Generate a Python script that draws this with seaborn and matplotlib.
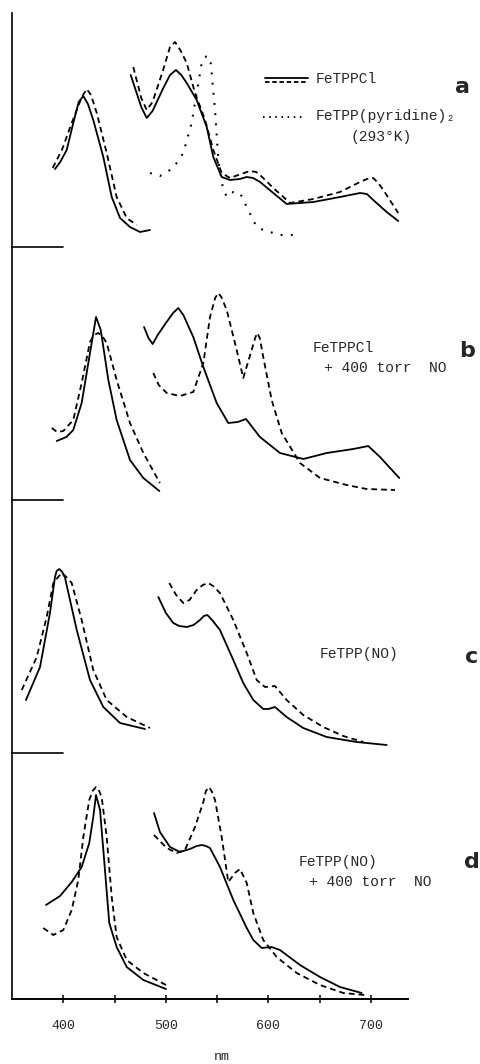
import numpy as np
import pandas as pd
import matplotlib
matplotlib.use("Agg")
import matplotlib.pyplot as plt
from matplotlib.lines import Line2D
import seaborn as sns

# ---------------- data (wavelength nm, absorbance arb. units) ----------------
# Panel a: FeTPPCl (solid / dashed) and FeTPP(pyridine)2 (dotted)
a_sol_soret_x = [391.9, 397.0, 403.3, 409.7, 415.0, 419.5, 424.0, 429.2, 439.0, 447.2, 455.3, 465.0, 474.8, 484.5]
a_sol_soret_y = [0.78, 0.85, 0.97, 1.24, 1.45, 1.51, 1.43, 1.27, 0.90, 0.50, 0.29, 0.20, 0.15, 0.17]
a_das_soret_x = [389.7, 399.0, 408.2, 418.0, 422.8, 427.0, 432.6, 442.3, 452.0, 461.8, 471.5]
a_das_soret_y = [0.79, 0.98, 1.24, 1.50, 1.58, 1.52, 1.34, 0.94, 0.50, 0.29, 0.22]
a_sol_q_x = [465.7, 476.0, 481.3, 487.0, 497.0, 504.0, 509.8, 515.0, 520.3, 530.0, 539.8, 546.2,
             554.4, 562.5, 572.0, 578.8, 585.0, 591.8, 604.7, 617.7, 643.7, 669.7, 689.2,
             696.0, 702.1, 715.2, 726.5]
a_sol_q_y = [1.72, 1.40, 1.29, 1.36, 1.58, 1.72, 1.77, 1.72, 1.64, 1.47, 1.20, 0.90,
             0.70, 0.67, 0.68, 0.70, 0.69, 0.65, 0.54, 0.43, 0.45, 0.50, 0.54,
             0.53, 0.47, 0.35, 0.26]
a_das_q_x = [468.2, 476.0, 481.3, 487.0, 497.0, 504.0, 508.9, 514.0, 520.3, 528.4, 538.2, 546.2,
             554.4, 562.5, 576.0, 582.0, 588.0, 591.8, 604.7, 621.0, 643.7, 669.7, 689.2,
             696.0, 702.1, 707.0, 711.9, 726.5]
a_das_q_y = [1.80, 1.49, 1.37, 1.45, 1.76, 2.00, 2.05, 1.97, 1.84, 1.54, 1.27, 0.97,
             0.74, 0.69, 0.74, 0.76, 0.75, 0.72, 0.59, 0.44, 0.48, 0.55, 0.65,
             0.68, 0.69, 0.64, 0.57, 0.34]
a_pyr_x = [484.5, 494.2, 507.2, 517.0, 525.1, 530.0, 534.9, 538.0, 541.3, 543.5, 547.9, 551.1,
           555.4, 559.3, 565.7, 572.3, 578.8, 588.5, 595.0, 611.2, 629.0]
a_pyr_y = [0.74, 0.71, 0.79, 0.94, 1.24, 1.54, 1.84, 1.90, 1.91, 1.86, 1.37, 0.87,
           0.60, 0.50, 0.55, 0.54, 0.40, 0.20, 0.17, 0.12, 0.12]

# Panel b: FeTPPCl (solid) + 400 torr NO (dashed)
b_sol_soret_x = [393.6, 403.0, 409.7, 417.9, 426.0, 431.9, 436.5, 443.9, 452.0, 465.0, 478.0, 493.6]
b_sol_soret_y = [0.59, 0.63, 0.70, 0.97, 1.47, 1.83, 1.70, 1.20, 0.80, 0.40, 0.22, 0.09]
b_das_soret_x = [388.7, 394.0, 400.0, 409.7, 417.9, 426.0, 430.0, 434.1, 438.0, 442.3, 452.0, 465.0, 478.0, 494.2]
b_das_soret_y = [0.72, 0.68, 0.69, 0.80, 1.17, 1.58, 1.65, 1.67, 1.64, 1.57, 1.20, 0.77, 0.47, 0.17]
b_sol_q_x = [478.7, 483.0, 487.1, 492.0, 500.0, 507.0, 512.1, 517.0, 526.7, 536.5, 549.5, 560.8,
             570.0, 578.1, 591.7, 611.2, 634.0, 656.7, 682.7, 697.3, 708.7, 727.5]
b_sol_q_y = [1.73, 1.62, 1.56, 1.65, 1.77, 1.87, 1.92, 1.85, 1.63, 1.33, 0.97, 0.77,
             0.78, 0.81, 0.63, 0.47, 0.41, 0.47, 0.51, 0.54, 0.43, 0.22]
b_das_q_x = [487.7, 493.0, 500.8, 513.7, 526.7, 536.5, 543.0, 548.0, 551.1, 554.0, 559.3, 569.0,
             575.4, 583.6, 587.0, 589.1, 591.5, 594.9, 603.1, 612.9, 630.7, 650.2, 676.2, 695.7, 723.3]
b_das_q_y = [1.27, 1.15, 1.07, 1.04, 1.08, 1.37, 1.83, 2.02, 2.07, 2.03, 1.90, 1.50,
             1.22, 1.50, 1.62, 1.67, 1.62, 1.43, 1.00, 0.67, 0.37, 0.22, 0.15, 0.11, 0.10]

# Panel c: FeTPP(NO)
c_sol_soret_x = [363.6, 377.3, 387.0, 391.9, 393.5, 396.1, 399.0, 401.7, 413.1, 426.0, 439.0, 455.3, 479.6]
c_sol_soret_y = [0.53, 0.86, 1.40, 1.76, 1.82, 1.84, 1.81, 1.75, 1.23, 0.73, 0.46, 0.30, 0.24]
c_das_soret_x = [359.5, 374.1, 383.8, 390.3, 395.0, 398.4, 402.0, 408.2, 417.9, 429.2, 442.3, 461.8, 484.5]
c_das_soret_y = [0.63, 0.96, 1.36, 1.70, 1.76, 1.80, 1.77, 1.70, 1.33, 0.83, 0.53, 0.36, 0.25]
c_sol_q_x = [492.6, 500.0, 507.2, 513.0, 520.3, 527.0, 533.2, 537.0, 540.4, 545.0, 552.7, 565.7,
             575.4, 585.2, 594.9, 600.0, 606.3, 617.7, 633.9, 656.7, 685.9, 715.2]
c_sol_q_y = [1.56, 1.40, 1.30, 1.27, 1.26, 1.28, 1.33, 1.37, 1.38, 1.33, 1.23, 0.93,
             0.70, 0.53, 0.44, 0.44, 0.46, 0.36, 0.25, 0.16, 0.11, 0.08]
c_das_q_x = [503.3, 510.0, 517.0, 523.0, 530.0, 536.0, 541.3, 546.0, 552.7, 565.7, 578.8, 588.5,
             596.6, 606.3, 617.7, 633.9, 653.4, 672.9, 692.4]
c_das_q_y = [1.70, 1.58, 1.50, 1.53, 1.63, 1.68, 1.70, 1.67, 1.60, 1.33, 1.00, 0.73,
             0.66, 0.67, 0.53, 0.38, 0.26, 0.17, 0.11]

# Panel d: FeTPP(NO) + 400 torr NO
d_sol_soret_x = [383.1, 396.8, 408.2, 417.9, 425.3, 429.2, 431.9, 435.8, 440.6, 444.8, 452.0,
                 461.8, 478.0, 500.1]
d_sol_soret_y = [0.94, 1.03, 1.17, 1.32, 1.56, 1.82, 2.04, 1.89, 1.29, 0.76, 0.52,
                 0.32, 0.19, 0.10]
d_das_soret_x = [380.5, 390.3, 400.0, 408.2, 414.6, 419.5, 425.3, 428.5, 431.9, 434.5, 437.4, 442.3, 447.2,
                 452.0, 461.8, 478.0, 500.1]
d_das_soret_y = [0.71, 0.64, 0.69, 0.89, 1.19, 1.62, 1.99, 2.08, 2.12, 2.09, 2.02, 1.62, 1.02,
                 0.62, 0.39, 0.26, 0.14]
d_sol_q_x = [488.4, 494.2, 504.0, 513.7, 523.5, 530.0, 534.9, 539.0, 543.0, 552.7, 565.7, 578.8, 585.2,
             593.4, 603.1, 611.2, 630.7, 650.2, 669.7, 690.8]
d_sol_q_y = [1.86, 1.67, 1.52, 1.47, 1.50, 1.53, 1.54, 1.53, 1.51, 1.32, 0.99, 0.71, 0.59,
             0.51, 0.52, 0.49, 0.34, 0.22, 0.12, 0.06]
d_das_q_x = [488.4, 500.8, 510.5, 518.6, 528.4, 536.5, 539.0, 542.0, 545.0, 547.9, 554.4, 560.8, 567.3,
             572.2, 578.8, 585.2, 594.9, 608.0, 627.5, 650.2, 672.9, 694.0]
d_das_q_y = [1.64, 1.51, 1.46, 1.49, 1.72, 1.97, 2.08, 2.12, 2.07, 1.99, 1.62, 1.17, 1.26,
             1.30, 1.16, 0.86, 0.59, 0.42, 0.26, 0.14, 0.06, 0.04]

x_major = [400, 500, 600, 700]
x_minor = [450, 550, 650]
x_limits = (349.5, 736.0)
panel_tops = [2.34, 2.53, 2.53, 2.46]
panel_letters = ["a", "b", "c", "d"]

# ---------------- figure ----------------
sns.set_style("white")
plt.rcParams["font.family"] = ["Liberation Mono", "DejaVu Sans Mono"]

W, H = 481, 1064
fig = plt.figure(figsize=(W / 100, H / 100), dpi=100)

def fx(px):
    return px / W

def fy(py):
    return 1 - py / H

left_px, right_px = 11.5, 408
panel_px = [(13, 247), (247, 500), (500, 753), (753, 999)]

mono = ["Liberation Mono", "DejaVu Sans Mono"]
DASH = (3.2, 2.2)
DOT = (0.9, 4.0)

def draw(ax, x, y, style):
    sns.lineplot(x=x, y=y, ax=ax, color="black", sort=False, estimator=None,
                 lw=1.5 if style == "dot" else 1.3)
    ln = ax.lines[-1]
    ln.set_clip_on(False)
    ln.set_solid_joinstyle("round")
    ln.set_dash_joinstyle("round")
    if style == "dash":
        ln.set_dashes(DASH)
    elif style == "dot":
        ln.set_dashes(DOT)

panels = [
    [(a_sol_soret_x, a_sol_soret_y, "solid"), (a_das_soret_x, a_das_soret_y, "dash"),
     (a_sol_q_x, a_sol_q_y, "solid"), (a_das_q_x, a_das_q_y, "dash"), (a_pyr_x, a_pyr_y, "dot")],
    [(b_sol_soret_x, b_sol_soret_y, "solid"), (b_das_soret_x, b_das_soret_y, "dash"),
     (b_sol_q_x, b_sol_q_y, "solid"), (b_das_q_x, b_das_q_y, "dash")],
    [(c_sol_soret_x, c_sol_soret_y, "solid"), (c_das_soret_x, c_das_soret_y, "dash"),
     (c_sol_q_x, c_sol_q_y, "solid"), (c_das_q_x, c_das_q_y, "dash")],
    [(d_sol_soret_x, d_sol_soret_y, "solid"), (d_das_soret_x, d_das_soret_y, "dash"),
     (d_sol_q_x, d_sol_q_y, "solid"), (d_das_q_x, d_das_q_y, "dash")],
]

axes = []
for i, ((top, bot), curves) in enumerate(zip(panel_px, panels)):
    ax = fig.add_axes([fx(left_px), fy(bot), fx(right_px - left_px), (bot - top) / H])
    ax.set_facecolor("none")
    for x, y, st in curves:
        draw(ax, x, y, st)
    ax.set_xlim(*x_limits)
    ax.set_ylim(0, panel_tops[i])
    for s in ["top", "right"]:
        ax.spines[s].set_visible(False)
    ax.spines["left"].set_linewidth(1.2)
    ax.spines["left"].set_color("black")
    ax.set_yticks([])
    ax.set_xlabel("")
    ax.set_ylabel("")
    if i < 3:
        ax.spines["bottom"].set_visible(False)
        ax.set_xticks([])
        frac = (x_major[0] - x_limits[0]) / (x_limits[1] - x_limits[0])
        ax.axhline(0, xmin=0, xmax=frac, color="black", lw=1.2, clip_on=False)
    else:
        ax.spines["bottom"].set_linewidth(1.4)
        ax.spines["bottom"].set_color("black")
        ax.set_xticks(x_major)
        ax.set_xticks(x_minor, minor=True)
        ax.set_xticklabels([str(v) for v in x_major], fontsize=9.5, family=mono)
        ax.tick_params(axis="x", which="both", direction="inout", length=6,
                       width=1.1, color="black", pad=12, bottom=True)
    axes.append(ax)

# axis title
fig.text(fx(222), fy(1057), "nm", ha="center", va="center", fontsize=9.5, family=mono)

# panel letters
letter_pos = [(463, 87), (467, 351), (472, 657), (472, 862)]
for (px, py), lt in zip(letter_pos, panel_letters):
    fig.text(fx(px), fy(py), lt, ha="center", va="center", fontsize=16,
             family=["DejaVu Sans"], fontweight="bold")

# legend of panel a
fig.add_artist(Line2D([fx(265), fx(308)], [fy(77.5), fy(77.5)], color="black", lw=1.3))
fig.add_artist(Line2D([fx(265), fx(308)], [fy(81.5), fy(81.5)], color="black", lw=1.3,
                      dashes=(2.5, 1.5)))
fig.add_artist(Line2D([fx(263), fx(302)], [fy(117), fy(117)], color="black", lw=1.3,
                      dashes=(0.9, 2.5)))
tkw = dict(ha="left", va="center", fontsize=10.5, family=mono)
fig.text(fx(316), fy(79), "FeTPPCl", **tkw)
fig.text(fx(316), fy(116), "FeTPP(pyridine)\u2082", **tkw)
fig.text(fx(351), fy(137), "(293\u00b0K)", **tkw)

# panel b label
fig.text(fx(313), fy(348), "FeTPPCl", **tkw)
fig.text(fx(324), fy(368), "+ 400 torr  NO", **tkw)
# panel c label
fig.text(fx(320), fy(654), "FeTPP(NO)", **tkw)
# panel d label
fig.text(fx(299), fy(862), "FeTPP(NO)", **tkw)
fig.text(fx(309), fy(882), "+ 400 torr  NO", **tkw)

fig.savefig("out.png", dpi=100)
